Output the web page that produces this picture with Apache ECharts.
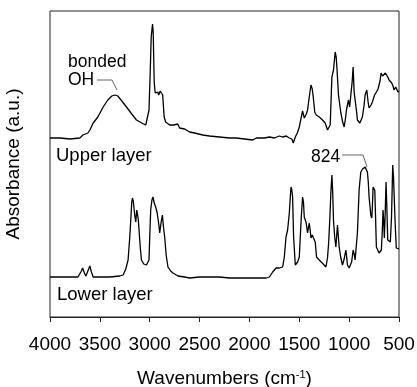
<!DOCTYPE html>
<html>
<head>
<meta charset="utf-8">
<script src="https://cdn.jsdelivr.net/npm/echarts@6/dist/echarts.min.js"></script>
<style>
html,body{margin:0;padding:0;background:#fff;}
#chart{width:417px;height:387px;}
</style>
</head>
<body>
<div id="chart"></div>
<script>
// Upper layer spectrum (wavenumber, absorbance a.u.)
var upperWavenumbers = [4000,3900,3800,3700,3670,3650,3620,3600,3567,3520,3467,3420,3380,3350,3320,3280,3233,3180,3133,3080,3040,3020,3007,2995,2985,2972,2965,2955,2945,2933,2920,2910,2895,2880,2870,2855,2840,2800,2760,2720,2700,2650,2600,2550,2467,2400,2300,2200,2133,2050,1967,1930,1900,1850,1800,1750,1700,1667,1630,1600,1575,1560,1540,1520,1500,1480,1467,1450,1430,1417,1400,1383,1370,1360,1345,1330,1300,1267,1240,1217,1200,1190,1180,1173,1157,1140,1130,1123,1107,1083,1065,1050,1035,1027,1007,995,985,970,960,950,940,925,917,893,880,867,850,840,823,810,800,780,767,745,727,710,700,690,680,665,650,637,627,612,600,585,573,560,550,533,520,510,500];
var upperAbsorbance = [179,179,178,179,182,184,184,187,194,200,210,217,221,222,221,216,210,203,197,194,192,194,207,245,280,293,285,235,224,222,225,222,226,225,222,200,195,192,192,193,189,188,185,184,182,181,180,179,179,178,177,179,179,179,180,179,181,180,181,179,178,174,180,184,190,200,206,199,203,207,220,232,228,220,205,202,200,197,194,187,189,192,220,240,247,265,260,250,222,204,195,190,200,207,217,210,212,235,250,225,217,205,197,194,196,200,212,222,227,215,209,212,215,222,225,228,229,236,244,241,239,244,246,240,237,236,234,231,227,230,228,225,226];

// Lower layer spectrum
var lowerWavenumbers = [4000,3900,3800,3720,3700,3685,3673,3655,3640,3620,3600,3585,3567,3500,3400,3300,3267,3240,3217,3200,3190,3180,3173,3165,3157,3148,3140,3130,3123,3115,3107,3095,3083,3060,3033,3015,3007,3000,2990,2978,2967,2955,2940,2925,2917,2908,2900,2885,2873,2862,2850,2835,2817,2790,2767,2717,2700,2650,2600,2500,2460,2450,2440,2400,2300,2200,2133,2000,1933,1833,1800,1767,1733,1700,1683,1667,1650,1633,1617,1600,1590,1583,1575,1567,1557,1540,1533,1517,1500,1490,1480,1467,1458,1450,1433,1425,1417,1400,1392,1383,1370,1350,1340,1327,1300,1283,1260,1233,1217,1205,1193,1183,1173,1165,1157,1145,1133,1117,1100,1085,1067,1050,1033,1025,1017,1000,993,975,960,950,940,925,917,900,883,865,840,825,817,808,800,783,773,767,760,743,735,727,700,690,677,668,660,653,647,638,630,622,613,600,587,575,563,555,547,537,527,510,500];
var lowerAbsorbance = [40,40,40,40,41,46,49,44,41,46,51,45,40,40,40,41,42,48,57,80,97,115,119,116,114,100,95,107,107,98,87,70,57,53,52,54,57,80,107,117,120,114,110,104,104,92,84,95,102,90,80,62,50,46,44,41,41,40,39,40,40,42,40,40,40,39,39,39,39,39,40,45,49,49,49,50,60,80,87,104,120,130,127,120,80,52,52,55,60,80,100,120,115,100,95,90,84,94,88,79,82,84,75,60,57,55,53,50,59,75,100,125,142,125,97,80,70,92,70,60,52,58,67,60,52,49,49,55,67,63,57,75,84,127,145,148,150,149,145,135,120,102,99,110,130,127,100,70,64,64,67,85,107,95,79,105,135,110,77,76,75,100,152,140,117,90,69,67,68];

var xTicks = [4000,3500,3000,2500,2000,1500,1000,500];

function pairs(xs, ys){ var out=[]; for(var i=0;i<xs.length;i++) out.push([xs[i], ys[i]]); return out; }

var FONT = '"Liberation Sans", Arial, sans-serif';
var chart = echarts.init(document.getElementById('chart'), null, {renderer:'canvas'});
chart.setOption({
  animation:false,
  backgroundColor:'#fff',
  grid:{left:50,right:18,top:11,bottom:70,containLabel:false,outerBoundsMode:'none',
    show:true,borderColor:'#222',borderWidth:1,backgroundColor:'transparent'},
  xAxis:{
    type:'value', min:500, max:4000, interval:500, inverse:true,
    axisLine:{show:true,lineStyle:{color:'#222',width:1}},
    axisTick:{show:true,inside:false,length:5,lineStyle:{color:'#222'}},
    splitLine:{show:false},
    axisLabel:{color:'#000',fontSize:19,fontFamily:FONT,margin:18,
      formatter:function(v){ return xTicks.indexOf(v)>=0 ? String(v) : ''; }},
    name:'Wavenumbers (cm{sup|-1})', nameLocation:'middle', nameGap:52,
    nameTextStyle:{color:'#000',fontSize:19,fontFamily:FONT,
      rich:{sup:{fontSize:11,fontFamily:FONT,color:'#000',verticalAlign:'top',padding:[0,0,9,0]}}}
  },
  yAxis:{
    type:'value', min:0, max:306,
    axisLine:{show:false}, axisTick:{show:false}, axisLabel:{show:false}, splitLine:{show:false},
    name:'Absorbance (a.u.)', nameLocation:'middle', nameGap:27,
    nameTextStyle:{color:'#000',fontSize:19,fontFamily:FONT}
  },
  series:[
    {name:'Upper layer',type:'line',data:pairs(upperWavenumbers,upperAbsorbance),showSymbol:false,
      lineStyle:{color:'#000',width:1.3},smooth:false},
    {name:'Lower layer',type:'line',data:pairs(lowerWavenumbers,lowerAbsorbance),showSymbol:false,
      lineStyle:{color:'#000',width:1.3},smooth:false}
  ],
  graphic:[
    {type:'text',x:68,y:62,style:{text:'bonded',font:'17.5px '+FONT,fill:'#000',textAlign:'left',textVerticalAlign:'middle'}},
    {type:'text',x:68,y:80.5,style:{text:'OH',font:'17.5px '+FONT,fill:'#000',textAlign:'left',textVerticalAlign:'middle'}},
    {type:'polyline',shape:{points:[[97,80],[112,80],[117,90]]},style:{stroke:'#555',lineWidth:0.9,fill:null}},
    {type:'text',x:56,y:156,style:{text:'Upper layer',font:'18.5px '+FONT,fill:'#000',textAlign:'left',textVerticalAlign:'middle'}},
    {type:'text',x:57,y:294.5,style:{text:'Lower layer',font:'18.5px '+FONT,fill:'#000',textAlign:'left',textVerticalAlign:'middle'}},
    {type:'text',x:311,y:157,style:{text:'824',font:'17.5px '+FONT,fill:'#000',textAlign:'left',textVerticalAlign:'middle'}},
    {type:'polyline',shape:{points:[[342,155],[363,155],[367,167]]},style:{stroke:'#555',lineWidth:0.9,fill:null}}
  ]
});
</script>
</body>
</html>
